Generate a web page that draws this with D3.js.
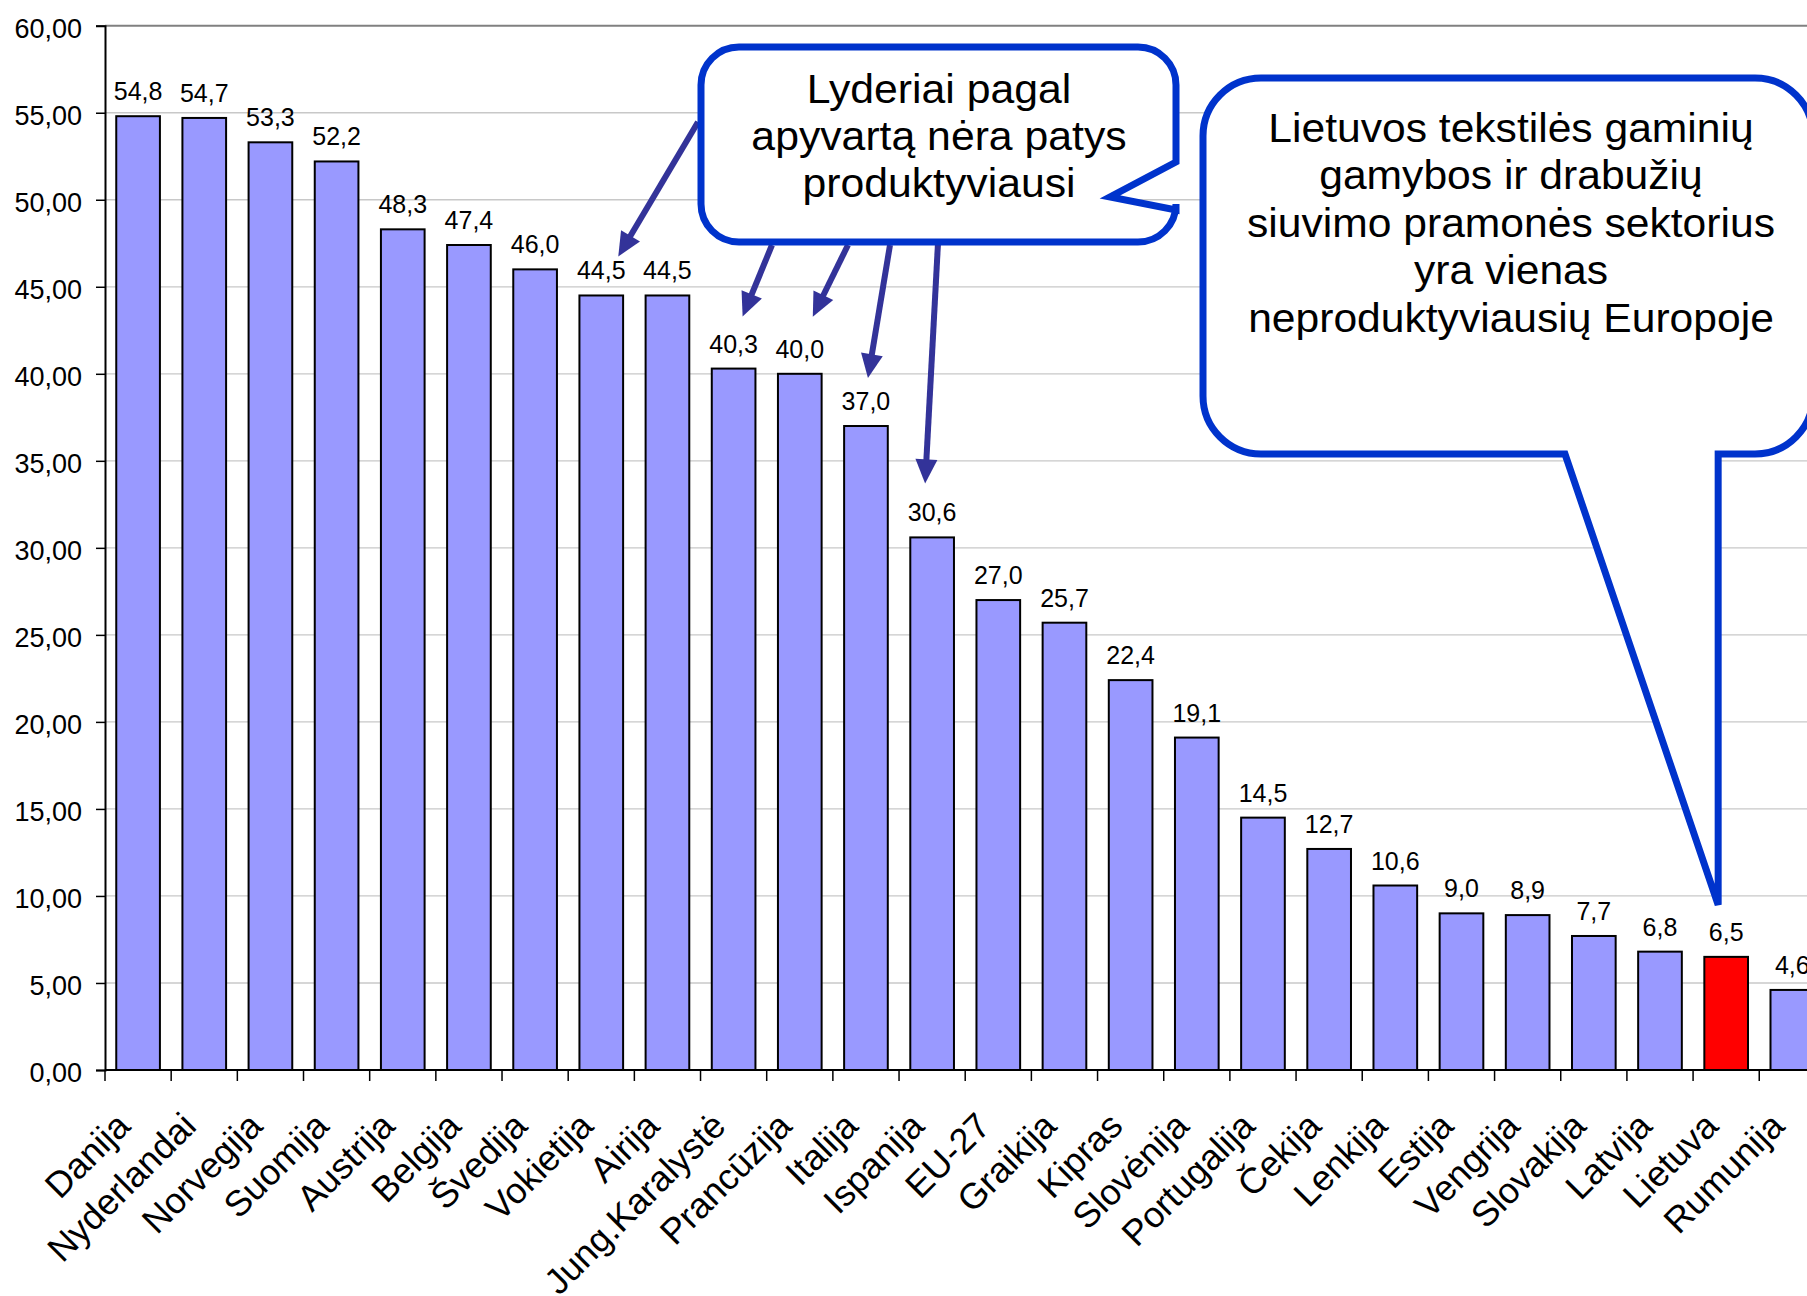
<!DOCTYPE html>
<html>
<head>
<meta charset="utf-8">
<script src="https://cdn.jsdelivr.net/npm/d3@7"></script>
<style>
  html, body { margin: 0; padding: 0; background: #ffffff; }
  svg { display: block; }
  text { font-family: "Liberation Sans", Arial, sans-serif; fill: #000; }
</style>
</head>
<body>
<svg id="chart" width="1807" height="1296"></svg>
<script>
// ---- data ----
const categories = ["Danija", "Nyderlandai", "Norvegija", "Suomija", "Austrija", "Belgija", "Švedija",
  "Vokietija", "Airija", "Jung.Karalystė", "Prancūzija", "Italija", "Ispanija", "EU-27", "Graikija",
  "Kipras", "Slovėnija", "Portugalija", "Čekija", "Lenkija", "Estija", "Vengrija", "Slovakija",
  "Latvija", "Lietuva", "Rumunija"];
const values = [54.8, 54.7, 53.3, 52.2, 48.3, 47.4, 46.0, 44.5, 44.5, 40.3, 40.0, 37.0, 30.6, 27.0,
  25.7, 22.4, 19.1, 14.5, 12.7, 10.6, 9.0, 8.9, 7.7, 6.8, 6.5, 4.6];
const highlighted = ["Lietuva"];
const yTickValues = [0, 5, 10, 15, 20, 25, 30, 35, 40, 45, 50, 55, 60];
const leaders = ["Vokietija", "Jung.Karalystė", "Prancūzija", "Italija", "Ispanija"];
const callout1Lines = ["Lyderiai pagal", "apyvartą nėra patys", "produktyviausi"];
const callout2Lines = ["Lietuvos tekstilės gaminių", "gamybos ir drabužių", "siuvimo pramonės sektorius",
  "yra vienas", "neproduktyviausių Europoje"];

// ---- layout ----
const svg = d3.select("#chart");
const plotLeft = 105, step = 66.17;
const plotRight = plotLeft + categories.length * step;
const plotTop = 25.7, plotBottom = 1070;

const x = d3.scaleBand().domain(categories).range([plotLeft, plotRight])
  .paddingInner(0.34).paddingOuter(0.17);
const y = d3.scaleLinear().domain([0, 60]).range([plotBottom, plotTop]);
const fmtTick = d => d.toFixed(2).replace(".", ",");
const fmtVal = d => d.toFixed(1).replace(".", ",");
const cx = c => x(c) + x.bandwidth() / 2;

// gridlines
svg.append("g").selectAll("line").data(yTickValues.filter(v => v > 0)).join("line")
  .attr("x1", plotLeft).attr("x2", plotRight)
  .attr("y1", d => y(d)).attr("y2", d => y(d))
  .attr("stroke", d => d === 60 ? "#808080" : "#c8c8c8")
  .attr("stroke-width", d => d === 60 ? 2 : 1.3);

// bars
svg.append("g").selectAll("rect").data(categories).join("rect")
  .attr("x", d => x(d))
  .attr("width", x.bandwidth())
  .attr("y", (d, i) => y(values[i]))
  .attr("height", (d, i) => y(0) - y(values[i]))
  .attr("fill", d => highlighted.includes(d) ? "#ff0000" : "#9999ff")
  .attr("stroke", "#000").attr("stroke-width", 2);

// value labels
svg.append("g").selectAll("text").data(categories).join("text")
  .attr("x", d => cx(d))
  .attr("y", (d, i) => y(values[i]) - 16)
  .attr("text-anchor", "middle")
  .attr("font-size", 25)
  .text((d, i) => fmtVal(values[i]));

// y axis
const yAxis = d3.axisLeft(y).tickValues(yTickValues).tickFormat(fmtTick).tickSize(9).tickPadding(14);
const gy = svg.append("g").attr("transform", `translate(${plotLeft},0)`).call(yAxis);
gy.select(".domain").attr("stroke", "#000").attr("stroke-width", 2);
gy.selectAll(".tick line").attr("stroke", "#000").attr("stroke-width", 1.5);
gy.selectAll(".tick text").attr("font-size", 27).attr("dy", "0.43em")
  .style("font-family", '"Liberation Sans", Arial, sans-serif').attr("fill", "#000");

// x axis line + ticks at band boundaries
svg.append("line").attr("x1", plotLeft).attr("x2", plotRight)
  .attr("y1", plotBottom).attr("y2", plotBottom).attr("stroke", "#000").attr("stroke-width", 2);
const boundaries = categories.map(c => x(c) - x.step() * x.paddingInner() / 2);
svg.append("g").selectAll("line").data(boundaries).join("line")
  .attr("x1", d => d).attr("x2", d => d)
  .attr("y1", plotBottom).attr("y2", plotBottom + 11)
  .attr("stroke", "#000").attr("stroke-width", 1.5);

// category labels
svg.append("g").selectAll("text").data(categories).join("text")
  .attr("transform", d => `translate(${cx(d) - 6},${plotBottom + 58}) rotate(-45)`)
  .attr("text-anchor", "end")
  .attr("font-size", 36)
  .text(d => d);

// ---- arrows from callout 1 ----
const arrowColor = "#333399";
function arrow(g, x1, y1, x2, y2) {
  const dx = x2 - x1, dy = y2 - y1, len = Math.hypot(dx, dy);
  const ux = dx / len, uy = dy / len;
  const hl = 24, hw = 11;
  const bx = x2 - ux * hl, by = y2 - uy * hl;
  g.append("line").attr("x1", x1).attr("y1", y1).attr("x2", bx + ux * 2).attr("y2", by + uy * 2)
    .attr("stroke", arrowColor).attr("stroke-width", 6);
  g.append("polygon")
    .attr("points", [[x2, y2], [bx - uy * hw, by + ux * hw], [bx + uy * hw, by - ux * hw]].map(p => p.join(",")).join(" "))
    .attr("fill", arrowColor);
}
const arrowsG = svg.append("g");
const v = c => values[categories.indexOf(c)];
const arrowStarts = [[698, 122], [772, 245], [848, 245], [890, 245], [938, 243]];
const tipOffsets = [[17, -39], [9, -52], [13, -57], [2, -48], [-7, -54]];
leaders.forEach((c, i) => {
  arrow(arrowsG, arrowStarts[i][0], arrowStarts[i][1], cx(c) + tipOffsets[i][0], y(v(c)) + tipOffsets[i][1]);
});

// ---- callout 1 ----
const blue = "#0033cc";
{
  const L = 701, T = 47, R = 1176, B = 242, r = 38;
  const p = d3.path();
  p.moveTo(L + r, T);
  p.lineTo(R - r, T);
  p.arcTo(R, T, R, T + r, r);
  p.lineTo(R, 162);
  p.lineTo(1110, 197);
  p.lineTo(R, 210);
  p.lineTo(R, B - r);
  p.arcTo(R, B, R - r, B, r);
  p.lineTo(L + r, B);
  p.arcTo(L, B, L, B - r, r);
  p.lineTo(L, T + r);
  p.arcTo(L, T, L + r, T, r);
  p.closePath();
  svg.append("path").attr("d", p.toString()).attr("fill", "#fff")
    .attr("stroke", blue).attr("stroke-width", 7).attr("stroke-linejoin", "miter");
  svg.append("g").attr("transform", "translate(939,0) scale(1.03,1)")
    .selectAll("text").data(callout1Lines).join("text")
    .attr("x", 0).attr("y", (d, i) => 103 + i * 47)
    .attr("text-anchor", "middle").attr("font-size", 41.5).text(d => d);
}

// ---- callout 2 ----
{
  const L = 1203, T = 78, R = 1813, B = 454, r = 58;
  const tipX = cx("Lietuva") - 8, tipY = y(v("Lietuva")) - 52;
  const p = d3.path();
  p.moveTo(L + r, T);
  p.lineTo(R - r, T);
  p.arcTo(R, T, R, T + r, r);
  p.lineTo(R, B - r);
  p.arcTo(R, B, R - r, B, r);
  p.lineTo(tipX, B);
  p.lineTo(tipX, tipY);
  p.lineTo(1565, B);
  p.lineTo(L + r, B);
  p.arcTo(L, B, L, B - r, r);
  p.lineTo(L, T + r);
  p.arcTo(L, T, L + r, T, r);
  p.closePath();
  svg.append("path").attr("d", p.toString()).attr("fill", "#fff")
    .attr("stroke", blue).attr("stroke-width", 7).attr("stroke-linejoin", "miter");
  svg.append("g").attr("transform", "translate(1511,0) scale(1.065,1)")
    .selectAll("text").data(callout2Lines).join("text")
    .attr("x", 0).attr("y", (d, i) => 142 + i * 47.5)
    .attr("text-anchor", "middle").attr("font-size", 40).text(d => d);
}
</script>
</body>
</html>
